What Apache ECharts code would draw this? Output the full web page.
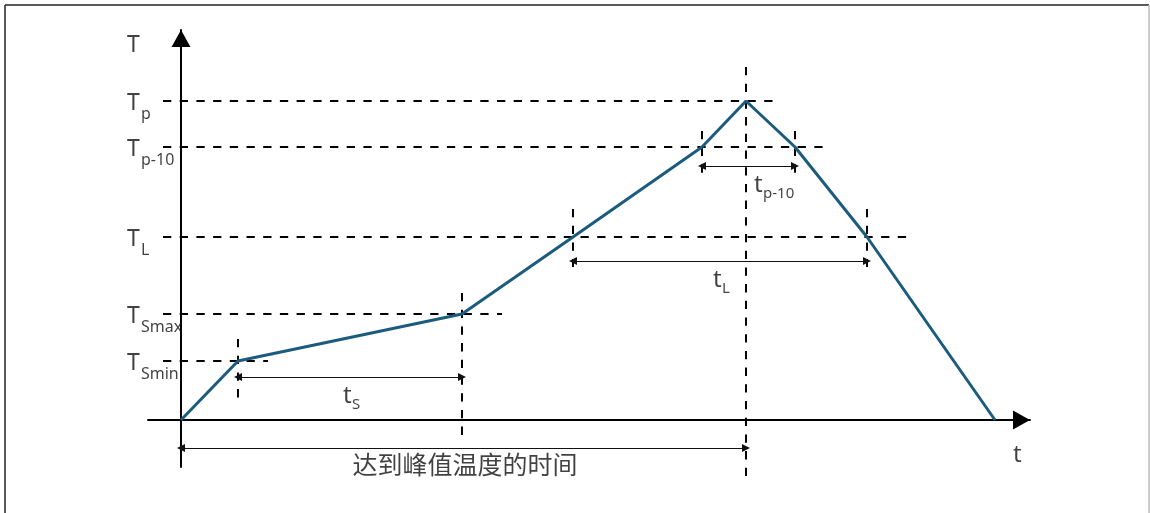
<!DOCTYPE html>
<html><head><meta charset="utf-8">
<script src="https://cdn.jsdelivr.net/npm/echarts@6/dist/echarts.min.js"></script>
<style>html,body{margin:0;padding:0;background:#fff}#c{width:1150px;height:513px}</style>
</head><body><div id="c"></div>
<script>
// ---- reflow profile (time units, temperature units; schematic) ----
const profileTime = [0, 57, 281, 392, 521, 565, 614, 686, 814];
const profileTemp = [0, 59, 106, 183, 273, 319, 273, 183, 0];

// temperature levels (tick labels on the T axis)
const levelValues = [319, 273, 183, 106, 59];
const levelMain = ['T', 'T', 'T', 'T', 'T'];
const levelSubs = ['p', 'p-10', 'L', 'Smax', 'Smin'];
const levelLineStart = -18;
const levelLineEnd = [596, 647, 726, 321, 87];

// vertical time markers
const markerTime = [57, 281, 565, 521, 614, 392, 686];
const markerTop = [81, 127, 353, 289, 289, 211, 211];
const markerBottom = [22, -17, -62, 247, 247, 153, 153];

// time spans (double arrows)
const spanStart = [57, 521, 392, 0];
const spanEnd = [281, 614, 686, 565];
const spanLevel = [43, 254, 159, -28];
const spanMain = ['t', 't', 't', '达到峰值温度的时间'];
const spanSubs = ['S', 'p-10', 'L', ''];
const spanLabelX = [162, 573, 532, 284];
const spanLabelY = [24, 235, 140, -47];

// axis names
const axisNameT = 'T';
const axisNamet = 't';

const FONT = "'Noto Sans', 'Noto Sans CJK SC', sans-serif";
const seg = (x1, y1, x2, y2) => ({ coords: [[x1, y1], [x2, y2]] });

const levelLines = levelValues.map((v, i) => seg(levelLineStart, v, levelLineEnd[i], v));
const markerLines = markerTime.map((t, i) => seg(t, markerTop[i], t, markerBottom[i]));
const spanLines = spanStart.map((s, i) => seg(s, spanLevel[i], spanEnd[i], spanLevel[i]));

function lbl(x, y, text, size, dx, dy, align) {
  return { name: text, value: [x, y],
    label: { fontSize: size, offset: [dx, dy], align: align || 'left' } };
}
const labels = [];
levelValues.forEach((v, i) => {
  labels.push(lbl(-54, v, levelMain[i], 23, 0, 2));
  labels.push(lbl(-54, v, levelSubs[i], 16, 14, 13));
});
spanMain.forEach((m, i) => {
  if (spanSubs[i]) {
    labels.push(lbl(spanLabelX[i], spanLabelY[i], m, 24, 0, 0));
    labels.push(lbl(spanLabelX[i], spanLabelY[i], spanSubs[i], 15, 9, 9));
  } else {
    labels.push(lbl(spanLabelX[i], spanLabelY[i], m, 25, 0, 0, 'center'));
  }
});
labels.push(lbl(-54, 375, axisNameT, 23, 0, 0));
labels.push(lbl(832, -35, axisNamet, 24, 0, 0));

const chart = echarts.init(document.getElementById('c'), null, { renderer: 'canvas' });
chart.setOption({
  animation: false,
  backgroundColor: '#fff',
  grid: { left: 148, right: 120, top: 30, bottom: 46 },
  xAxis: {
    type: 'value', min: -33, max: 849,
    axisLine: { onZero: true, symbol: ['none', 'triangle'], symbolSize: [19, 17], symbolOffset: [0, -8.5],
      lineStyle: { color: '#000', width: 2 } },
    axisTick: { show: false }, axisLabel: { show: false }, splitLine: { show: false }
  },
  yAxis: {
    type: 'value', min: -47, max: 390,
    axisLine: { onZero: true, symbol: ['none', 'triangle'], symbolSize: [19, 17], symbolOffset: [0, -8.5],
      lineStyle: { color: '#000', width: 2 } },
    axisTick: { show: false }, axisLabel: { show: false }, splitLine: { show: false }
  },
  graphic: [
    { type: 'line', shape: { x1: 5, y1: 5, x2: 1149, y2: 5 }, style: { stroke: '#222', lineWidth: 1.5 }, silent: true },
    { type: 'line', shape: { x1: 5, y1: 5, x2: 5, y2: 513 }, style: { stroke: '#222', lineWidth: 1.5 }, silent: true },
    { type: 'line', shape: { x1: 1149, y1: 5, x2: 1149, y2: 513 }, style: { stroke: '#bbb', lineWidth: 1.5 }, silent: true }
  ],
  series: [
    { type: 'lines', coordinateSystem: 'cartesian2d', clip: false, silent: true, z: 2,
      lineStyle: { color: '#000', width: 2, type: [8.3, 8.4], opacity: 1, curveness: 0 }, symbol: 'none',
      data: levelLines.concat(markerLines) },
    { type: 'lines', coordinateSystem: 'cartesian2d', clip: false, silent: true, z: 3,
      lineStyle: { color: '#111', width: 1.2, opacity: 1, curveness: 0 }, symbol: ['triangle', 'triangle'], symbolSize: [8, 8],
      data: spanLines },
    { type: 'line', data: profileTime.map((t, i) => [t, profileTemp[i]]), symbol: 'none', z: 4,
      lineStyle: { color: '#1b5b7e', width: 3 }, clip: false, silent: true },
    { type: 'scatter', data: labels, symbolSize: 0, clip: false, silent: true, z: 5,
      label: { show: true, position: [0, 0], formatter: '{b}', verticalAlign: 'middle',
        color: '#111', fontFamily: FONT } }
  ]
});
</script></body></html>
